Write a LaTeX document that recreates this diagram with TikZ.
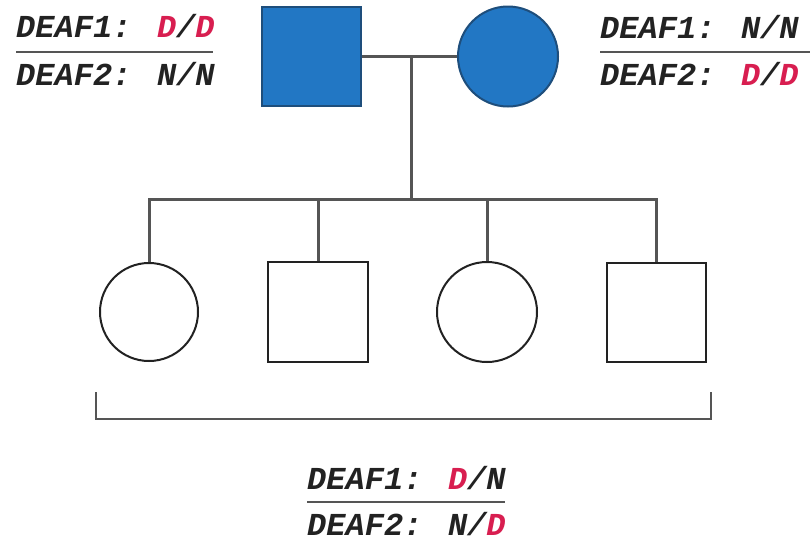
\documentclass[tikz,border=0pt]{standalone}
\usepackage{fontspec}
\newfontfamily\gfont{Liberation Mono}
\definecolor{fillblue}{HTML}{2277C4}
\definecolor{edgeblue}{HTML}{1E4E7C}
\definecolor{lgray}{HTML}{555555}
\definecolor{dred}{HTML}{D81E50}
\definecolor{tblack}{HTML}{222222}
\newcommand{\rd}[1]{\textcolor{dred}{#1}}
\tikzset{
  male/.style={draw=#1, rectangle, inner sep=0pt, line width=2pt},
  female/.style={draw=#1, circle, inner sep=0pt, line width=2pt},
  pline/.style={draw=lgray, line width=3pt},
  brk/.style={draw=lgray, line width=2.5pt, line join=miter},
  rulel/.style={draw=lgray, line width=2.2pt},
  lab/.style={inner sep=0pt, anchor=base west, text=tblack, font=\gfont\bfseries\itshape\fontsize{32}{32}\selectfont}
}
\begin{document}
\begin{tikzpicture}[x=1pt,y=-1pt]
\useasboundingbox[fill=white] (0,0) rectangle (810,544);
% parents
\node[male=edgeblue, fill=fillblue, minimum size=99pt] (f) at (311.5,56.5) {};
\node[female=edgeblue, fill=fillblue, minimum size=100pt] (m) at (508,56.5) {};
% children
\node[female=tblack, fill=white, minimum size=98pt] (c1) at (149,312) {};
\node[male=tblack, fill=white, minimum size=100pt] (c2) at (318,312) {};
\node[female=tblack, fill=white, minimum size=100pt] (c3) at (487,312) {};
\node[male=tblack, fill=white, minimum size=99pt] (c4) at (656,312) {};
% lines
\coordinate (cp) at (411,56.5);
\coordinate (sj) at (411,199);
\draw[pline] (f.east) -- (m.west);
\draw[pline] (cp) -- (sj);
\draw[pline, line join=miter] (c1.north) -- (c1.north |- sj) -- (c4.north |- sj) -- (c4.north);
\draw[pline] (c2.north |- sj) -- (c2.north);
\draw[pline] (c3.north |- sj) -- (c3.north);
% bracket
\coordinate (bl) at (96,392);
\coordinate (br) at (711,392);
\draw[brk] (bl) -- ++(0,27) -| (br);
% labels
\node[lab] (t1) at (16,37) {DEAF1: \rd{D}/\rd{D}};
\node[lab] (t2) at (16,85) {DEAF2: N/N};
\draw[rulel] (16,52) -- (213,52);
\node[lab] (t3) at (600,38) {DEAF1: N/N};
\node[lab] (t4) at (600,85) {DEAF2: \rd{D}/\rd{D}};
\draw[rulel] (600,52) -- (810,52);
\node[lab] (t5) at (307,489) {DEAF1: \rd{D}/N};
\node[lab] (t6) at (307,535) {DEAF2: N/\rd{D}};
\draw[rulel] (307,502) -- (505,502);
\end{tikzpicture}
\end{document}
